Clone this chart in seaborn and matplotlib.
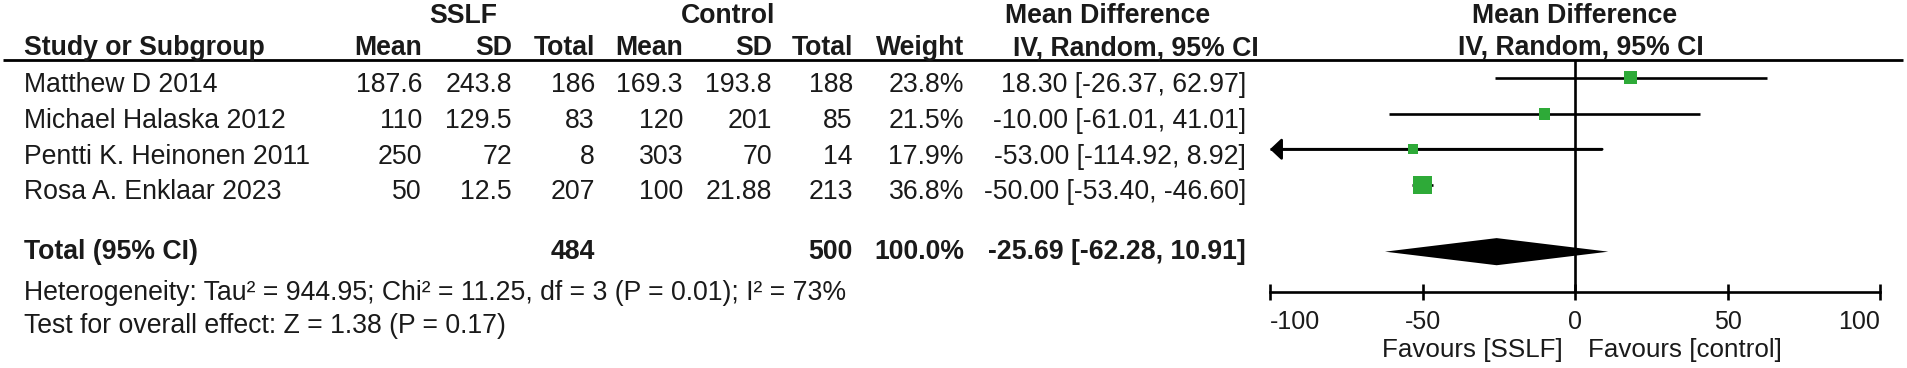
import numpy as np
import pandas as pd
import matplotlib
matplotlib.use("Agg")
import matplotlib.pyplot as plt
import seaborn as sns

# study data
studies = ["Matthew D 2014", "Michael Halaska 2012", "Pentti K. Heinonen 2011", "Rosa A. Enklaar 2023"]
sslf_mean = [187.6, 110, 250, 50]
sslf_sd = [243.8, 129.5, 72, 12.5]
sslf_n = [186, 83, 8, 207]
ctrl_mean = [169.3, 120, 303, 100]
ctrl_sd = [193.8, 201, 70, 21.88]
ctrl_n = [188, 85, 14, 213]
weight = [23.8, 21.5, 17.9, 36.8]
md = [18.30, -10.00, -53.00, -50.00]
md_lo = [-26.37, -61.01, -114.92, -53.40]
md_hi = [62.97, 41.01, 8.92, -46.60]

# pooled result
total_sslf = 484
total_ctrl = 500
total_weight = 100.0
total_md = -25.69
total_lo = -62.28
total_hi = 10.91
tau2, chi2, df_het, p_het, i2 = 944.95, 11.25, 3, 0.01, 73
z_val, p_z = 1.38, 0.17

x_ticks = [-100, -50, 0, 50, 100]

df = pd.DataFrame({"md": md, "lo": md_lo, "hi": md_hi, "weight": weight,
                   "row": np.arange(len(studies))})

sns.set_style("white")
plt.rcParams["font.family"] = ["Liberation Sans", "DejaVu Sans"]

TXT = "#1a1a1a"
GREEN = "#2eaa38"
FS = 19.2

fig = plt.figure(figsize=(19.08, 3.68), dpi=100)

# table axes: x in pixels, y in row units
tab = fig.add_axes([0, 0, 1, 1])
tab.set_xlim(0, 1908)
tab.set_ylim((368 - 78) / 35.7, -78 / 35.7)
tab.axis("off")

hdr1, hdr2, total_row, het_row, test_row, fav_row = -1.74, -0.84, 4.87, 6.02, 6.95, 7.62
txt_off = 0.2  # study text sits a little below the marker row
x0 = 24

tab.hlines(-0.5, 3, 1903, color="black", lw=2)

tab.text(463, hdr1, "SSLF", ha="center", va="center", fontsize=FS, weight="bold", color=TXT)
tab.text(728, hdr1, "Control", ha="center", va="center", fontsize=FS, weight="bold", color=TXT)
tab.text(1108, hdr1, "Mean Difference", ha="center", va="center", fontsize=FS, weight="bold", color=TXT)
tab.text(1136, hdr2, "IV, Random, 95% CI", ha="center", va="center", fontsize=FS, weight="bold", color=TXT)
tab.text(x0, hdr2, "Study or Subgroup", ha="left", va="center", fontsize=FS, weight="bold", color=TXT)

cols = [422, 512, 595, 683, 772, 853, 964, 1246]
heads = ["Mean", "SD", "Total", "Mean", "SD", "Total", "Weight"]
for x, h in zip(cols, heads):
    tab.text(x, hdr2, h, ha="right", va="center", fontsize=FS, weight="bold", color=TXT)

for i, name in enumerate(studies):
    vals = [f"{sslf_mean[i]:g}", f"{sslf_sd[i]:g}", f"{sslf_n[i]}",
            f"{ctrl_mean[i]:g}", f"{ctrl_sd[i]:g}", f"{ctrl_n[i]}",
            f"{weight[i]:.1f}%", f"{md[i]:.2f} [{md_lo[i]:.2f}, {md_hi[i]:.2f}]"]
    tab.text(x0, i + txt_off, name, ha="left", va="center", fontsize=FS, color=TXT)
    for x, v in zip(cols, vals):
        tab.text(x, i + txt_off, v, ha="right", va="center", fontsize=FS, color=TXT)

tab.text(x0, total_row, "Total (95% CI)", ha="left", va="center", fontsize=FS, weight="bold", color=TXT)
tab.text(cols[2], total_row, f"{total_sslf}", ha="right", va="center", fontsize=FS, weight="bold", color=TXT)
tab.text(cols[5], total_row, f"{total_ctrl}", ha="right", va="center", fontsize=FS, weight="bold", color=TXT)
tab.text(cols[6], total_row, f"{total_weight:.1f}%", ha="right", va="center", fontsize=FS, weight="bold", color=TXT)
tab.text(cols[7], total_row, f"{total_md:.2f} [{total_lo:.2f}, {total_hi:.2f}]",
         ha="right", va="center", fontsize=FS, weight="bold", color=TXT)
tab.text(x0, het_row, f"Heterogeneity: Tau\u00b2 = {tau2:.2f}; Chi\u00b2 = {chi2:.2f}, df = {df_het} "
         f"(P = {p_het:.2f}); I\u00b2 = {i2}%", ha="left", va="center", fontsize=FS, color=TXT)
tab.text(x0, test_row, f"Test for overall effect: Z = {z_val:.2f} (P = {p_z:.2f})",
         ha="left", va="center", fontsize=FS, color=TXT)

# forest axes
fax = fig.add_axes([1270 / 1908, 1 - 292 / 368, 610 / 1908, (292 - 60) / 368])
fax.patch.set_alpha(0)

lo_clip = np.maximum(df["lo"], x_ticks[0])
fax.hlines(df["row"], lo_clip, df["hi"], color="black", lw=1.9, zorder=2)
for _, r in df[df["lo"] < x_ticks[0]].iterrows():
    fax.annotate("", xy=(x_ticks[0], r["row"]), xytext=(r["hi"], r["row"]),
                 arrowprops=dict(arrowstyle="-|>,head_length=0.35,head_width=0.33",
                                 mutation_scale=20, color="black", lw=1.9, shrinkA=0, shrinkB=0),
                 annotation_clip=False, zorder=2)

sns.scatterplot(data=df, x="md", y="row", size="weight", sizes=(52, 169), marker="s",
                color=GREEN, linewidth=0, legend=False, ax=fax, zorder=3)

h = 0.38
fax.fill([total_lo, total_md, total_hi, total_md],
         [total_row, total_row - h, total_row, total_row + h], color="black", lw=0, zorder=3)

fax.axvline(0, color="black", lw=1.9, zorder=1)
fax.set_xlim(x_ticks[0], x_ticks[-1])
fax.set_ylim(6.0, -0.5)
fax.set_xlabel("")
fax.set_ylabel("")
fax.set_yticks([])
fax.set_xticks(x_ticks)
labels = fax.set_xticklabels([f"{t}" for t in x_ticks], fontsize=18, color=TXT)
labels[0].set_ha("left")
labels[-1].set_ha("right")
fax.tick_params(axis="x", direction="inout", length=12, width=1.9, pad=7, bottom=True, colors="black",
                labelcolor=TXT)
for s in ["left", "right", "top"]:
    fax.spines[s].set_visible(False)
fax.spines["bottom"].set_linewidth(1.9)
fax.spines["bottom"].set_color("black")

fax.text(-4, fav_row, "Favours [SSLF]", ha="right", va="center", fontsize=18.7, color=TXT, clip_on=False)
fax.text(4.3, fav_row, "Favours [control]", ha="left", va="center", fontsize=18.7, color=TXT, clip_on=False)
fax.text(0, hdr1, "Mean Difference", ha="center", va="center", fontsize=FS, weight="bold", color=TXT, clip_on=False)
fax.text(2, hdr2, "IV, Random, 95% CI", ha="center", va="center", fontsize=FS, weight="bold", color=TXT, clip_on=False)

fig.savefig("out.png", dpi=100)
